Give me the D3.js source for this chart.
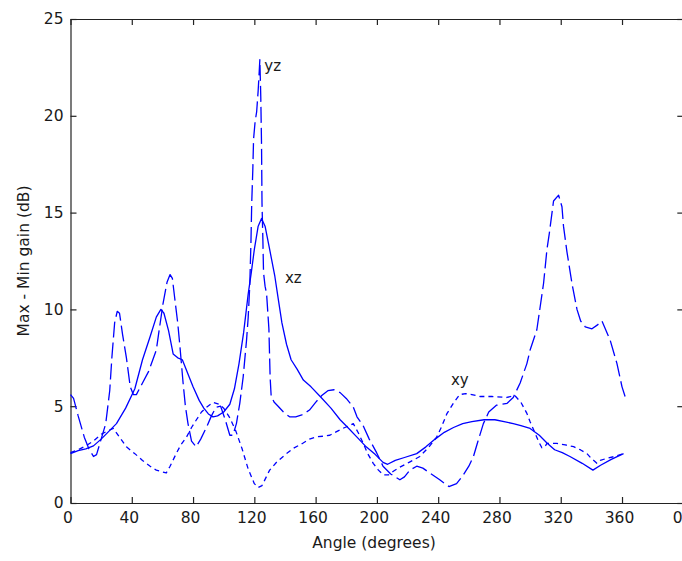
<!DOCTYPE html>
<html><head><meta charset="utf-8">
<script src="https://cdn.jsdelivr.net/npm/d3@7"></script>
<style>
html,body{margin:0;padding:0;background:#fff;overflow:hidden;}
svg text{font-family:"DejaVu Sans",sans-serif;fill:#1a1a1a;}
</style></head>
<body><svg id="chart" width="682" height="561"></svg>
<script>
// ---- data ----
const xTicks = [0,40,80,120,160,200,240,280,320,360,400];
const xTickLabels = ["0","40","80","120","160","200","240","280","320","360","0"];
const yTicks = [0,5,10,15,20,25];
const yTickLabels = ["0","5","10","15","20","25"];

// xz plane (solid)
const xzAngle = [0,5,10,15,20,25,30,36,42,47,52,56,59,61,64,67,70,73,77,80,84,87,90,93,96,100,104,107,110,113,116,118,120,122.5,124.7,127,130,133.4,135.5,138,141,144,148,152,157,163,170,176,181,187,193,199,204,207,212,218,226,232,238,244,250,256,262,270,277,283,289,294,300,306,311,316,321,326,334,341,346,353,361];
const xzGain  = [2.55,2.7,2.8,2.95,3.3,3.7,4.1,4.9,5.9,7.4,8.6,9.6,10.0,9.8,8.9,7.7,7.5,7.4,6.6,6.0,5.3,4.9,4.6,4.45,4.5,4.7,5.1,5.9,7.2,8.8,10.8,11.9,13.1,14.3,14.7,14.3,13.1,11.7,10.6,9.3,8.2,7.4,6.9,6.35,6.0,5.5,4.9,4.3,3.9,3.4,2.9,2.5,2.1,2.0,2.2,2.35,2.55,2.9,3.3,3.65,3.9,4.1,4.2,4.3,4.3,4.2,4.1,4.0,3.85,3.5,3.1,2.75,2.6,2.4,2.05,1.7,1.95,2.25,2.55];

// yz plane (dashed)
const yzAngle = [0,2,5,9,12,15,17,20,23,25.6,27,28.8,30.5,32,34,36.5,39,41,43,47,51,56,58,60.4,63,65,66.5,68,70,71.3,73.5,75,76.7,79,82,85,89,92,95,98,101,104,106,108.3,110.5,112.7,114.9,116,117,117.8,118.3,119,119.5,120.5,121.5,122.5,123.2,123.6,124.2,124.7,125,125.6,126,127,128,129.5,130.3,131,133,135.5,139,143,147,151,156,160,164,168,172,176,180,184.6,187,191,195,199.8,204,209,215,218,221.6,226,230,234.6,241,247,252,256,260,263,266,269.5,273,278,285,289,293.5,297.9,300,304.4,308.8,311,312.5,315.3,318.6,320.8,321.8,324,327.3,330.6,333,336,340.4,344,346.9,352.3,356.7,360,362];
const yzGain  = [5.6,5.4,4.5,3.4,2.8,2.4,2.5,3.3,4.1,5.8,7.5,9.3,9.9,9.8,8.7,7.5,6.0,5.6,5.6,6.2,6.8,7.9,9.0,10.3,11.4,11.8,11.6,10.6,9.3,8.2,6.2,5.0,4.1,3.2,2.9,3.3,3.95,4.5,4.95,5.0,4.3,3.5,3.5,4.1,5.15,6.5,8.4,9.6,11.2,13.5,15.5,17.2,18.8,19.7,20.2,21.3,22.3,22.9,21.0,18.5,15.5,13.5,11.9,11.2,10.8,9.0,6.5,5.5,5.2,5.0,4.7,4.45,4.45,4.55,4.8,5.2,5.55,5.8,5.85,5.7,5.4,4.95,4.45,4.0,3.3,2.6,1.9,1.5,1.2,1.35,1.7,1.9,1.8,1.55,1.2,0.85,1.0,1.4,1.9,2.4,3.2,4.1,4.7,5.05,5.15,5.45,6.2,7.2,7.9,8.95,11.35,13.1,13.9,15.6,15.9,15.3,14.3,13.0,11.35,10.0,9.4,9.1,9.0,9.2,9.4,8.4,7.2,6.0,5.5];

// xy plane (dotted)
const xyAngle = [0,5,10,15,20,25,28,32,36.5,42,47,52,56,60.4,62.5,65,69,72,75.7,79,82.2,85.5,88.8,93,97,100,104,108,112,116,120,122.5,125,130,135,141,146,151.9,156,160.6,165,169.3,174,178,182,184.6,188,191,194,197.6,201,204.2,207.5,211,215,221,228,234,239,242,245.6,249.9,254,258,262,267.4,275,284.8,290,294,297.9,300,303.3,305.4,307.7,310,311,317.5,323,328.4,333,337.1,340,343.6,345.8,350.2,355,361];
const xyGain  = [2.6,2.75,2.95,3.2,3.55,3.75,3.85,3.4,2.9,2.55,2.2,1.9,1.7,1.6,1.55,1.9,2.55,3.0,3.4,3.9,4.3,4.7,4.95,5.2,5.1,4.9,4.4,3.7,2.8,1.75,1.0,0.8,0.9,1.7,2.15,2.55,2.85,3.1,3.3,3.42,3.45,3.5,3.7,3.86,4.0,4.1,3.6,3.1,2.55,2.05,1.7,1.45,1.45,1.65,1.85,2.1,2.4,2.9,3.4,3.9,4.6,5.15,5.6,5.65,5.6,5.5,5.5,5.45,5.55,5.2,4.63,4.2,3.6,3.2,2.85,2.95,3.08,3.08,3.0,2.91,2.74,2.55,2.3,2.05,2.2,2.31,2.4,2.55];

const seriesNames = ["xz","yz","xy"];
const labelAngle = [140,126.5,248.3];
const labelGain  = [11.35,22.3,6.1];

// ---- drawing ----
const svg = d3.select("#chart");
svg.append("rect").attr("width",682).attr("height",561).attr("fill","#fff");
const x = d3.scaleLinear().domain([0,400]).range([70.5,683.3]);
const y = d3.scaleLinear().domain([0,25]).range([503,19]);

const axisColor = "#222";
function styleAxis(g){
  g.selectAll("path.domain").attr("stroke",axisColor).attr("stroke-width",1.2);
  g.selectAll(".tick line").attr("stroke",axisColor).attr("stroke-width",1.2);
}
const gB = svg.append("g").attr("transform",`translate(0,${y(0)})`)
  .call(d3.axisBottom(x).tickValues(xTicks).tickSizeInner(-6).tickSizeOuter(0).tickPadding(8)
    .tickFormat((d,i)=>xTickLabels[i]));
styleAxis(gB);
gB.selectAll(".tick text").attr("font-size","15.5px").attr("font-family","DejaVu Sans")
  .attr("fill","#1a1a1a").attr("dx",-3).attr("dy","0.9em").attr("y",6);
gB.selectAll(".tick").filter(d=>d===400).select("text").attr("dx",-6);

const gT = svg.append("g").attr("transform",`translate(0,${y(25)})`)
  .call(d3.axisTop(x).tickValues(xTicks).tickSizeInner(-6).tickSizeOuter(0).tickFormat(""));
styleAxis(gT);

const gL = svg.append("g").attr("transform",`translate(${x(0)},0)`)
  .call(d3.axisLeft(y).tickValues(yTicks).tickSizeInner(-6).tickSizeOuter(0).tickPadding(12)
    .tickFormat((d,i)=>yTickLabels[i]));
styleAxis(gL);
gL.selectAll(".tick text").attr("font-size","15.5px").attr("font-family","DejaVu Sans")
  .attr("fill","#1a1a1a").attr("x",-7);

const gR = svg.append("g").attr("transform",`translate(${x(400)},0)`)
  .call(d3.axisRight(y).tickValues(yTicks).tickSizeInner(-6).tickSizeOuter(0).tickFormat(""));
styleAxis(gR);

// series
const styles = {xz:null, yz:"16,5", xy:"5,4"};
const sets = {
  xz: xzAngle.map((a,i)=>[a,xzGain[i]]),
  yz: yzAngle.map((a,i)=>[a,yzGain[i]]),
  xy: xyAngle.map((a,i)=>[a,xyGain[i]])
};
const line = d3.line().x(d=>x(d[0])).y(d=>y(d[1]));
["xy","yz","xz"].forEach(k=>{
  const p = svg.append("path").datum(sets[k]).attr("d",line)
    .attr("fill","none").attr("stroke","#0000ff").attr("stroke-width",1.3)
    .attr("stroke-linejoin","round");
  if(styles[k]) p.attr("stroke-dasharray",styles[k]);
});

// series labels
seriesNames.forEach((n,i)=>{
  svg.append("text").attr("x",x(labelAngle[i])).attr("y",y(labelGain[i]))
    .attr("font-size","15px").text(n);
});

// axis titles
svg.append("text").attr("x",374).attr("y",548).attr("text-anchor","middle")
  .attr("font-size","15.5px").text("Angle (degrees)");
svg.append("text").attr("transform",`translate(29,${(y(0)+y(25))/2}) rotate(-90)`)
  .attr("text-anchor","middle").attr("font-size","15.5px").text("Max - Min gain (dB)");
</script></body></html>
